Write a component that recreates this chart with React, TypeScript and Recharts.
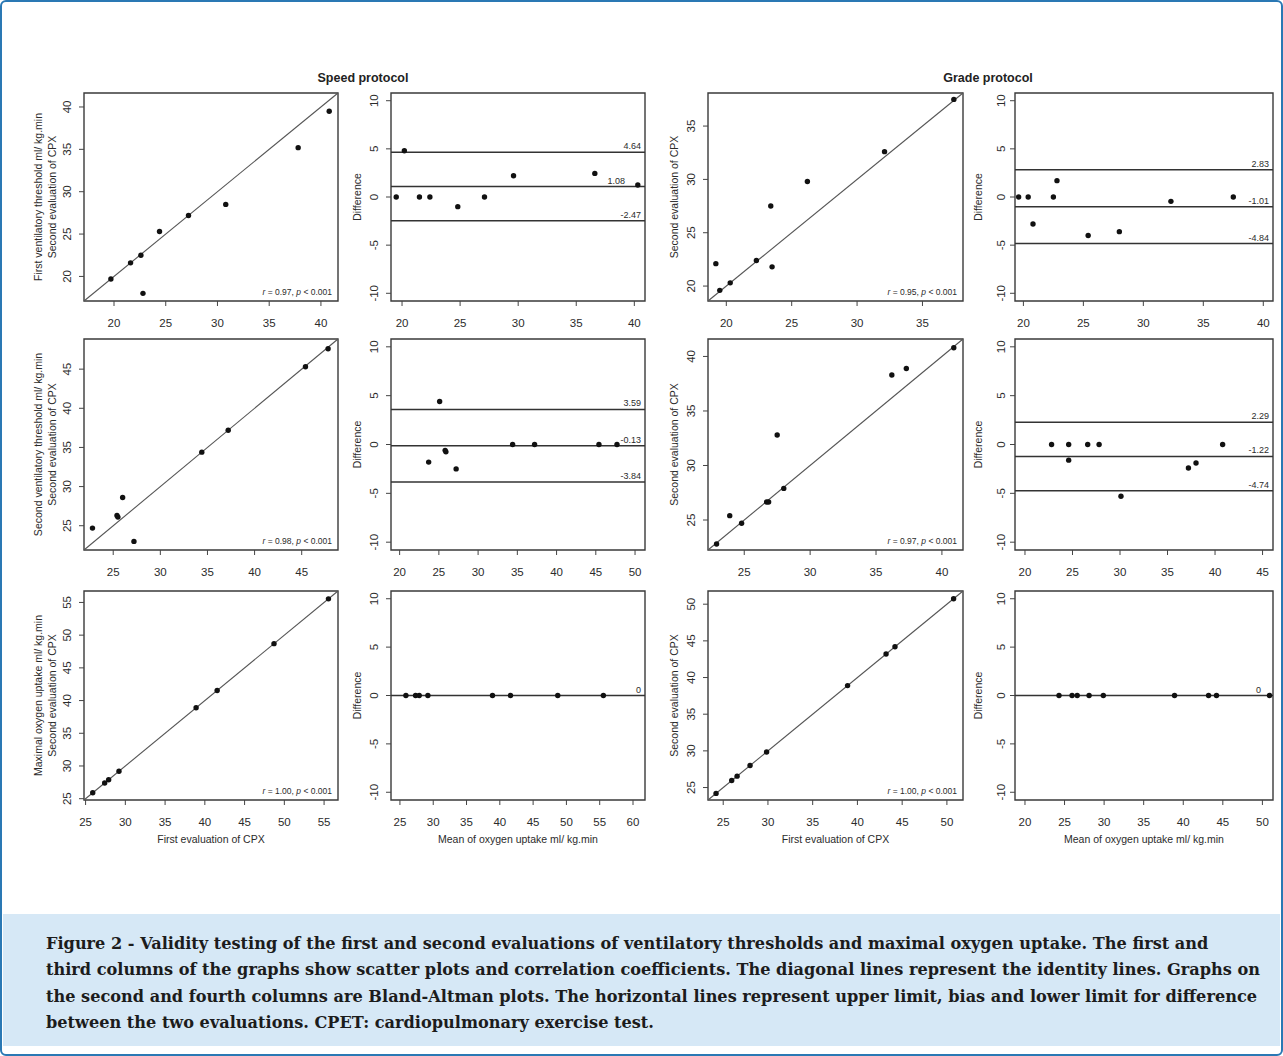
import React from 'react';
import { ReferenceArea, ReferenceLine, Scatter, ScatterChart, XAxis, YAxis } from 'recharts';

// values

// speed protocol, first ventilatory threshold
const speedVt1First = [19.7, 21.6, 22.6, 22.8, 24.4, 27.2, 30.8, 37.8, 40.8];
const speedVt1Second = [19.7, 21.6, 22.5, 18.0, 25.3, 27.2, 28.5, 35.2, 39.5];
const speedVt1Mean = [19.5, 20.2, 21.5, 22.4, 24.8, 27.1, 29.6, 36.6, 40.3];
const speedVt1Diff = [0, 4.8, 0, 0, -1.0, 0, 2.2, 2.45, 1.25];
const speedVt1Limits = [4.64, 1.08, -2.47];

// grade protocol, first ventilatory threshold
const gradeVt1First = [19.2, 19.5, 20.3, 22.3, 23.4, 23.5, 26.2, 32.1, 37.4];
const gradeVt1Second = [22.1, 19.6, 20.3, 22.4, 27.5, 21.8, 29.8, 32.6, 37.5];
const gradeVt1Mean = [19.6, 20.4, 20.8, 22.5, 22.8, 25.4, 28.0, 32.3, 37.5];
const gradeVt1Diff = [0, 0, -2.8, 0, 1.7, -4.0, -3.6, -0.45, 0];
const gradeVt1Limits = [2.83, -1.01, -4.84];

// speed protocol, second ventilatory threshold
const speedVt2First = [22.8, 25.4, 25.5, 26.0, 27.2, 34.4, 37.2, 45.4, 47.8];
const speedVt2Second = [24.7, 26.3, 26.1, 28.6, 23.0, 34.4, 37.2, 45.3, 47.6];
const speedVt2Mean = [23.7, 25.1, 25.8, 25.9, 27.2, 34.4, 37.2, 45.4, 47.7];
const speedVt2Diff = [-1.8, 4.4, -0.6, -0.75, -2.5, 0, 0, 0, 0];
const speedVt2Limits = [3.59, -0.13, -3.84];

// grade protocol, second ventilatory threshold
const gradeVt2First = [22.9, 23.9, 24.8, 26.7, 26.85, 27.5, 28.0, 36.2, 37.3, 40.9];
const gradeVt2Second = [22.8, 25.4, 24.7, 26.65, 26.65, 32.8, 27.9, 38.3, 38.9, 40.8];
const gradeVt2Mean = [22.8, 24.6, 24.6, 26.6, 27.8, 30.1, 37.2, 38.0, 40.8];
const gradeVt2Diff = [0, 0, -1.6, 0, 0, -5.3, -2.4, -1.9, 0];
const gradeVt2Limits = [2.29, -1.22, -4.74];

// speed protocol, maximal oxygen uptake
const speedMaxFirst = [25.9, 27.4, 27.9, 29.2, 38.9, 41.55, 48.7, 55.55];
const speedMaxSecond = [25.9, 27.4, 27.9, 29.2, 38.9, 41.55, 48.7, 55.55];
const speedMaxMean = [25.9, 27.35, 27.9, 29.2, 38.9, 41.6, 48.7, 55.55];
const speedMaxDiff = [0, 0, 0, 0, 0, 0, 0, 0];
const speedMaxLimits = [0];

// grade protocol, maximal oxygen uptake
const gradeMaxFirst = [24.2, 25.95, 26.55, 28.0, 29.85, 38.9, 43.2, 44.2, 50.75];
const gradeMaxSecond = [24.2, 25.95, 26.55, 28.0, 29.85, 38.9, 43.2, 44.2, 50.75];
const gradeMaxMean = [24.3, 25.95, 26.6, 28.1, 29.9, 38.9, 43.2, 44.2, 50.9];
const gradeMaxDiff = [0, 0, 0, 0, 0, 0, 0, 0, 0];
const gradeMaxLimits = [0];

const correlations = ['0.97', '0.95', '0.98', '0.97', '1.00', '1.00'];

// axis limits and tick labels
const limSpeedVt1: [number, number] = [17.1, 41.65];
const limGradeVt1: [number, number] = [18.6, 38.1];
const limSpeedVt2: [number, number] = [21.9, 48.85];
const limGradeVt2: [number, number] = [22.25, 41.6];
const limSpeedMax: [number, number] = [24.8, 56.75];
const limGradeMax: [number, number] = [23.3, 51.8];

const baXSpeedVt1: [number, number] = [19.05, 40.92];
const baXGradeVt1: [number, number] = [19.3, 40.81];
const baXSpeedVt2: [number, number] = [18.9, 51.27];
const baXGradeVt2: [number, number] = [18.95, 46.1];
const baXSpeedMax: [number, number] = [23.66, 61.8];
const baXGradeMax: [number, number] = [18.74, 51.34];
const baY: [number, number] = [-10.8, 10.8];

const ticks20to40 = [20, 25, 30, 35, 40];
const ticks20to35 = [20, 25, 30, 35];
const ticks25to45 = [25, 30, 35, 40, 45];
const ticks20to50 = [20, 25, 30, 35, 40, 45, 50];
const ticks25to40 = [25, 30, 35, 40];
const ticks20to45 = [20, 25, 30, 35, 40, 45];
const ticks25to55 = [25, 30, 35, 40, 45, 50, 55];
const ticks25to60 = [25, 30, 35, 40, 45, 50, 55, 60];
const ticks25to50 = [25, 30, 35, 40, 45, 50];
const ticksDiff = [-10, -5, 0, 5, 10];

const FONT = '"Liberation Sans", Arial, sans-serif';
const INK = '#2b2b2b';

const toPoints = (xs: number[], ys: number[]) => xs.map((x, i) => ({ x, y: ys[i] }));

const colLeft = [84, 391, 708, 1015];
const colWidth = [254, 254, 255, 258];
const rowTop = [93, 339, 591];
const rowHeight = [208, 211, 209];

interface PanelProps {
  col: number;
  row: number;
  xDomain: [number, number];
  yDomain: [number, number];
  xTicks: number[];
  yTicks: number[];
  points: { x: number; y: number }[];
  identity?: boolean;
  limits?: number[];
  labelShift?: number[];
  corr?: string;
  yLabels: string[];
  xLabel?: string;
}

const ML = 70;
const MB = 52;
const MT = 4;
const MR = 6;

function Dot(props: any) {
  if (props.cx == null || props.cy == null) return null;
  return <circle cx={props.cx} cy={props.cy} r={2.7} fill="#111" />;
}

function Panel({
  col,
  row,
  xDomain,
  yDomain,
  xTicks,
  yTicks,
  points,
  identity,
  limits,
  labelShift,
  corr,
  yLabels,
  xLabel,
}: PanelProps) {
  const left = colLeft[col];
  const top = rowTop[row];
  const w = colWidth[col];
  const h = rowHeight[row];
  const tickGap = col === 3 ? 14 : 17;
  const labelOffsets = yLabels.length === 2 ? [46, 32] : [col === 3 ? 37 : 34];

  const xTick = (p: any) => (
    <text x={p.x} y={p.y + 17} textAnchor="middle" dominantBaseline="central" fontSize={11.5} fill={INK} fontFamily={FONT}>
      {p.payload.value}
    </text>
  );
  const yTick = (p: any) => (
    <text
      x={0}
      y={0}
      transform={`translate(${p.x + 5 - tickGap},${p.y}) rotate(-90)`}
      textAnchor="middle"
      dominantBaseline="central"
      fontSize={11.5}
      fill={INK}
      fontFamily={FONT}
    >
      {p.payload.value}
    </text>
  );

  const yLabel = (p: any) => {
    const vb = p.viewBox;
    const cx = vb.x + vb.width;
    const cy = vb.y + vb.height / 2;
    return (
      <g>
        {yLabels.map((t, i) => (
          <text
            key={t}
            x={0}
            y={0}
            transform={`translate(${cx - labelOffsets[i]},${cy}) rotate(-90)`}
            textAnchor="middle"
            dominantBaseline="central"
            fontSize={10.5}
            fill={INK}
            fontFamily={FONT}
          >
            {t}
          </text>
        ))}
      </g>
    );
  };

  const xLabelFn = (p: any) => {
    const vb = p.viewBox;
    return (
      <text
        x={vb.x + vb.width / 2}
        y={vb.y + 39}
        textAnchor="middle"
        dominantBaseline="central"
        fontSize={10.5}
        fill={INK}
        fontFamily={FONT}
      >
        {xLabel}
      </text>
    );
  };

  const corrLabel = (p: any) => {
    const vb = p.viewBox;
    if (!corr) return null;
    return (
      <text
        x={vb.x + vb.width - 6}
        y={vb.y + vb.height - 6}
        textAnchor="end"
        fontSize={8.5}
        fill={INK}
        fontFamily={FONT}
      >
        <tspan fontStyle="italic">r</tspan> = {corr}, <tspan fontStyle="italic">p</tspan> {'< 0.001'}
      </text>
    );
  };

  return (
    <div style={{ position: 'absolute', left: left - ML, top: top - MT }}>
      <ScatterChart
        width={w + ML + MR}
        height={h + MT + MB}
        margin={{ top: MT, right: MR, bottom: 0, left: 0 }}
      >
        <XAxis
          type="number"
          dataKey="x"
          domain={xDomain}
          ticks={xTicks}
          interval={0}
          allowDataOverflow
          height={MB}
          axisLine={false}
          tickLine={{ stroke: '#444' }}
          tickSize={5}
          tickMargin={0}
          tick={xTick}
          label={xLabel ? xLabelFn : undefined}
        />
        <YAxis
          type="number"
          dataKey="y"
          domain={yDomain}
          ticks={yTicks}
          interval={0}
          allowDataOverflow
          width={ML}
          axisLine={false}
          tickLine={{ stroke: '#444' }}
          tickSize={5}
          tickMargin={0}
          tick={yTick}
          label={yLabel}
        />
        <ReferenceArea
          x1={xDomain[0]}
          x2={xDomain[1]}
          y1={yDomain[0]}
          y2={yDomain[1]}
          fill="none"
          fillOpacity={0}
          stroke="#3a3a3a"
          strokeWidth={1.4}
          label={corrLabel}
        />
        {identity && (
          <ReferenceLine
            segment={[
              { x: Math.max(xDomain[0], yDomain[0]), y: Math.max(xDomain[0], yDomain[0]) },
              { x: Math.min(xDomain[1], yDomain[1]), y: Math.min(xDomain[1], yDomain[1]) },
            ]}
            stroke="#555"
            strokeWidth={1.1}
          />
        )}
        {(limits || []).map((v, i) => (
          <ReferenceLine
            key={i}
            y={v}
            stroke="#333"
            strokeWidth={1.5}
            label={(p: any) => {
              const vb = p.viewBox;
              const shift = labelShift ? labelShift[i] : 0;
              return (
                <text
                  x={vb.x + vb.width - 4 - shift}
                  y={vb.y - 3}
                  textAnchor="end"
                  fontSize={9}
                  fill={INK}
                  fontFamily={FONT}
                >
                  {v === 0 ? '0' : v.toFixed(2)}
                </text>
              );
            }}
          />
        ))}
        <Scatter data={points} shape={Dot} isAnimationActive={false} />
      </ScatterChart>
    </div>
  );
}

const captionLines = [
  'Figure 2 - Validity testing of the first and second evaluations of ventilatory thresholds and maximal oxygen uptake. The first and',
  'third columns of the graphs show scatter plots and correlation coefficients. The diagonal lines represent the identity lines. Graphs on',
  'the second and fourth columns are Bland-Altman plots. The horizontal lines represent upper limit, bias and lower limit for difference',
  'between the two evaluations. CPET: cardiopulmonary exercise test.',
];

const second = 'Second evaluation of CPX';
const firstEval = 'First evaluation of CPX';
const meanLabel = 'Mean of oxygen uptake ml/ kg.min';

export default function App() {
  return (
    <div style={{ position: 'absolute', left: 0, top: 0, width: 1283, height: 1056, background: '#fff' }}>
      <div
        style={{
          position: 'absolute',
          left: 3,
          top: 914,
          width: 1277,
          height: 132,
          background: '#d6e8f6',
        }}
      />
      <div
        style={{
          position: 'absolute',
          left: 0,
          top: 0,
          width: 1283,
          height: 1056,
          boxSizing: 'border-box',
          border: '2px solid #2a78b4',
          borderRadius: 6,
        }}
      />
      <div
        style={{
          position: 'absolute',
          left: 46,
          top: 931,
          fontFamily: '"DejaVu Serif", "Liberation Serif", serif',
          fontWeight: 700,
          fontSize: 16.15,
          lineHeight: '26.3px',
          color: '#1c1c1c',
          whiteSpace: 'nowrap',
        }}
      >
        {captionLines.map((l) => (
          <div key={l}>{l}</div>
        ))}
      </div>

      <div style={{ position: 'absolute', left: 263, width: 200, top: 71, textAlign: 'center', fontFamily: FONT, fontWeight: 700, fontSize: 12.5, color: '#222' }}>
        Speed protocol
      </div>
      <div style={{ position: 'absolute', left: 888, width: 200, top: 71, textAlign: 'center', fontFamily: FONT, fontWeight: 700, fontSize: 12.5, color: '#222' }}>
        Grade protocol
      </div>

      <Panel
        col={0}
        row={0}
        xDomain={limSpeedVt1}
        yDomain={limSpeedVt1}
        xTicks={ticks20to40}
        yTicks={ticks20to40}
        points={toPoints(speedVt1First, speedVt1Second)}
        identity
        corr={correlations[0]}
        yLabels={['First ventilatory threshold ml/ kg.min', second]}
      />
      <Panel
        col={1}
        row={0}
        xDomain={baXSpeedVt1}
        yDomain={baY}
        xTicks={ticks20to40}
        yTicks={ticksDiff}
        points={toPoints(speedVt1Mean, speedVt1Diff)}
        limits={speedVt1Limits}
        labelShift={[0, 16, 0]}
        yLabels={['Difference']}
      />
      <Panel
        col={2}
        row={0}
        xDomain={limGradeVt1}
        yDomain={limGradeVt1}
        xTicks={ticks20to35}
        yTicks={ticks20to35}
        points={toPoints(gradeVt1First, gradeVt1Second)}
        identity
        corr={correlations[1]}
        yLabels={[second]}
      />
      <Panel
        col={3}
        row={0}
        xDomain={baXGradeVt1}
        yDomain={baY}
        xTicks={ticks20to40}
        yTicks={ticksDiff}
        points={toPoints(gradeVt1Mean, gradeVt1Diff)}
        limits={gradeVt1Limits}
        yLabels={['Difference']}
      />

      <Panel
        col={0}
        row={1}
        xDomain={limSpeedVt2}
        yDomain={limSpeedVt2}
        xTicks={ticks25to45}
        yTicks={ticks25to45}
        points={toPoints(speedVt2First, speedVt2Second)}
        identity
        corr={correlations[2]}
        yLabels={['Second ventilatory threshold ml/ kg.min', second]}
      />
      <Panel
        col={1}
        row={1}
        xDomain={baXSpeedVt2}
        yDomain={baY}
        xTicks={ticks20to50}
        yTicks={ticksDiff}
        points={toPoints(speedVt2Mean, speedVt2Diff)}
        limits={speedVt2Limits}
        yLabels={['Difference']}
      />
      <Panel
        col={2}
        row={1}
        xDomain={limGradeVt2}
        yDomain={limGradeVt2}
        xTicks={ticks25to40}
        yTicks={ticks25to40}
        points={toPoints(gradeVt2First, gradeVt2Second)}
        identity
        corr={correlations[3]}
        yLabels={[second]}
      />
      <Panel
        col={3}
        row={1}
        xDomain={baXGradeVt2}
        yDomain={baY}
        xTicks={ticks20to45}
        yTicks={ticksDiff}
        points={toPoints(gradeVt2Mean, gradeVt2Diff)}
        limits={gradeVt2Limits}
        yLabels={['Difference']}
      />

      <Panel
        col={0}
        row={2}
        xDomain={limSpeedMax}
        yDomain={limSpeedMax}
        xTicks={ticks25to55}
        yTicks={ticks25to55}
        points={toPoints(speedMaxFirst, speedMaxSecond)}
        identity
        corr={correlations[4]}
        yLabels={['Maximal oxygen uptake ml/ kg.min', second]}
        xLabel={firstEval}
      />
      <Panel
        col={1}
        row={2}
        xDomain={baXSpeedMax}
        yDomain={baY}
        xTicks={ticks25to60}
        yTicks={ticksDiff}
        points={toPoints(speedMaxMean, speedMaxDiff)}
        limits={speedMaxLimits}
        yLabels={['Difference']}
        xLabel={meanLabel}
      />
      <Panel
        col={2}
        row={2}
        xDomain={limGradeMax}
        yDomain={limGradeMax}
        xTicks={ticks25to50}
        yTicks={ticks25to50}
        points={toPoints(gradeMaxFirst, gradeMaxSecond)}
        identity
        corr={correlations[5]}
        yLabels={[second]}
        xLabel={firstEval}
      />
      <Panel
        col={3}
        row={2}
        xDomain={baXGradeMax}
        yDomain={baY}
        xTicks={ticks20to50}
        yTicks={ticksDiff}
        points={toPoints(gradeMaxMean, gradeMaxDiff)}
        limits={gradeMaxLimits}
        labelShift={[8]}
        yLabels={['Difference']}
        xLabel={meanLabel}
      />
    </div>
  );
}
